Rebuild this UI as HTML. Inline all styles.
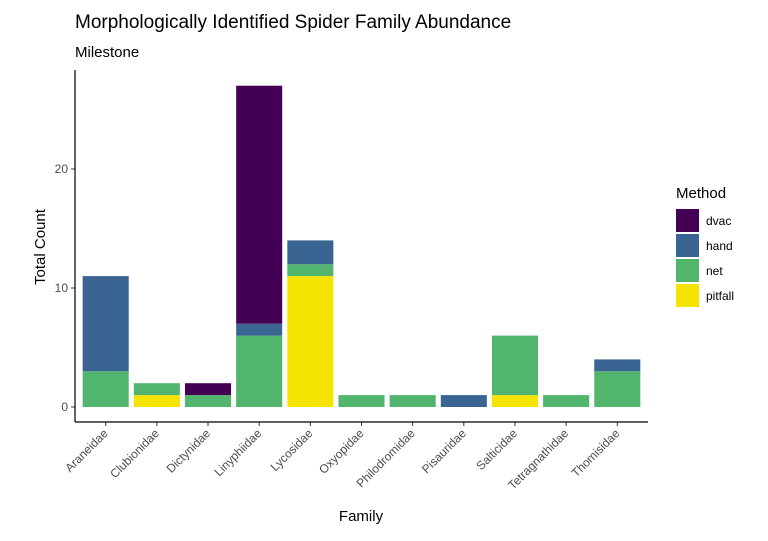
<!DOCTYPE html>
<html><head><meta charset="utf-8"><style>
body{margin:0;background:#fff;font-family:"Liberation Sans",Arial,sans-serif;}
</style></head><body>
<svg id="chart" width="768" height="536" xmlns="http://www.w3.org/2000/svg">
<text x="75" y="28" font-size="19" fill="#000">Morphologically Identified Spider Family Abundance</text>
<text x="75" y="57" font-size="15" fill="#000">Milestone</text>
<g id="plot"></g>
<text x="361" y="521" font-size="15" text-anchor="middle">Family</text>
<text x="45" y="247" font-size="15" text-anchor="middle" transform="rotate(-90 45 247)">Total Count</text>
<g id="legend"></g>
</svg>
<script>
const categories=["Araneidae","Clubionidae","Dictynidae","Linyphiidae","Lycosidae","Oxyopidae","Philodromidae","Pisauridae","Salticidae","Tetragnathidae","Thomisidae"];
const methods=["pitfall","net","hand","dvac"];
const pitfall=[0,1,0,0,11,0,0,0,1,0,0];
const net=[3,1,1,6,1,1,1,0,5,1,3];
const hand=[8,0,0,1,2,0,0,1,0,0,1];
const dvac=[0,0,1,20,0,0,0,0,0,0,0];
const yTicks=[0,10,20];
const colors={dvac:"#440154",hand:"#3a6593",net:"#52b56e",pitfall:"#f5e300"};
const series={pitfall,net,hand,dvac};
const NS="http://www.w3.org/2000/svg";
const L=75,R=648,B=422,T=70;
const y=v=>407-v*11.9;
const band=(R-L)/(categories.length-1+1.2);
const x=i=>L+band*(i+0.6);
const plot=document.getElementById('plot');
function mk(t,a,p){const e=document.createElementNS(NS,t);for(const k in a)e.setAttribute(k,a[k]);(p||plot).appendChild(e);return e;}
categories.forEach((c,i)=>{
  let base=0;
  methods.forEach(m=>{
    const v=series[m][i];
    if(v>0){
      const r=mk('rect',{x:x(i)-band*0.45,y:y(base+v),width:band*0.9,height:y(base)-y(base+v),fill:colors[m]});
      
      
    }
    base+=v;
  });
  const tk=mk('line',{x1:x(i),x2:x(i),y1:B,y2:B+4,stroke:'#333'});
  
  
  const tx=x(i)+3,ty=B+12;
  const t=mk('text',{x:tx,y:ty,'font-size':12,fill:'#4d4d4d','text-anchor':'end',transform:`rotate(-45 ${tx} ${ty})`});
  t.textContent=c;
  
  
});
yTicks.forEach(v=>{
  const tk=mk('line',{x1:L-4,x2:L,y1:y(v),y2:y(v),stroke:'#333'});
  
  
  const t=mk('text',{x:L-7,y:y(v)+4,'font-size':12,fill:'#4d4d4d','text-anchor':'end'});
  t.textContent=v;
  
  
});
const ya=mk('line',{x1:L,x2:L,y1:T,y2:B,stroke:'#000','stroke-width':1.2});


const xa=mk('line',{x1:L,x2:R,y1:B,y2:B,stroke:'#000','stroke-width':1.2});


const lg=document.getElementById('legend');
const lt=mk('text',{x:676,y:198,'font-size':15},lg);
lt.textContent="Method";


["dvac","hand","net","pitfall"].forEach((m,i)=>{
  const r=mk('rect',{x:676,y:209+i*25,width:23,height:23,fill:colors[m]},lg);
  
  
  const t=mk('text',{x:706,y:225+i*25,'font-size':12},lg);
  t.textContent=m;
  
  
});
</script>
</body></html>
